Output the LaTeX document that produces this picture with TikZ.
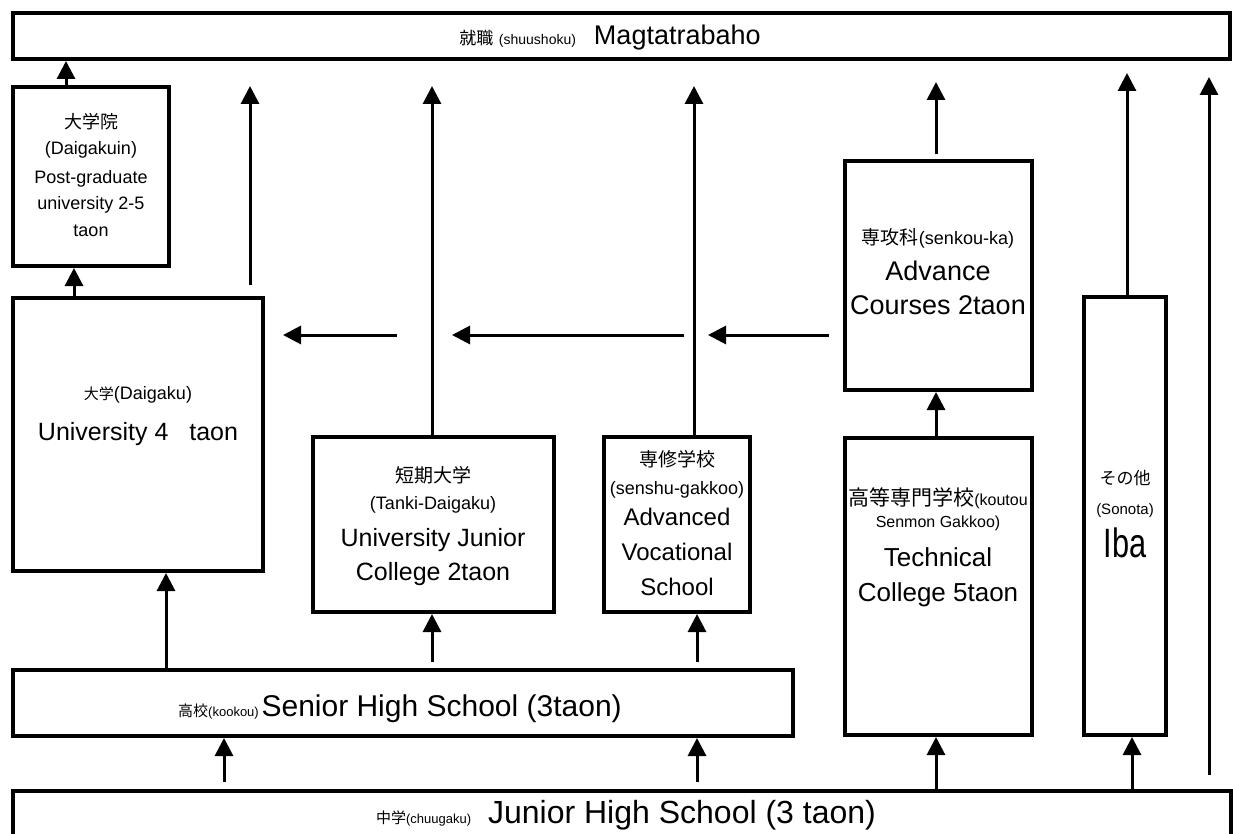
\documentclass[tikz,border=0pt]{standalone}
\usepackage{fontspec}
\setmainfont{Liberation Sans}
\newfontfamily\jp{Noto Sans CJK JP}
\usetikzlibrary{arrows.meta}
\newcommand\fs[2]{{\fontsize{#1pt}{#1pt}\selectfont #2}}
\newcommand\jf[2]{{\jp\fontsize{#1pt}{#1pt}\selectfont #2}}
\newcommand\nx[2]{\scalebox{#1}[1]{#2}}
\begin{document}
\begin{tikzpicture}[x=1pt,y=-1pt,
  box/.style={draw,line width=4pt,inner sep=0pt,fill=white},
  arr/.style={line width=3pt,-{Triangle[length=18pt,width=18pt]}},
  txt/.style={inner sep=0pt,anchor=base}]
\useasboundingbox (0,0) rectangle (1233,834);
\clip (0,0) rectangle (1233,834);
% boxes
\node[box,minimum width=1217pt,minimum height=46pt]  (top)    at (621.5,36) {};
\node[box,minimum width=156pt,minimum height=179pt]  (dgin)   at (91,176.5) {};
\node[box,minimum width=250pt,minimum height=273pt]  (univ)   at (138,434.5) {};
\node[box,minimum width=241pt,minimum height=175pt]  (tanki)  at (433.5,524.5) {};
\node[box,minimum width=146pt,minimum height=175pt]  (senmon) at (677,524.5) {};
\node[box,minimum width=187pt,minimum height=229pt]  (adv)    at (938.5,275.5) {};
\node[box,minimum width=187pt,minimum height=297pt]  (kosen)  at (938.5,586.5) {};
\node[box,minimum width=82pt,minimum height=438pt]   (sonota) at (1125,516) {};
\node[box,minimum width=780pt,minimum height=66pt]   (senior) at (403,703) {};
\node[box,minimum width=1218pt,minimum height=79pt]  (junior) at (622,830.5) {};
% free ends
\coordinate (f1s) at (250,285);  \coordinate (f1e) at (250,86);
\coordinate (f2e) at (432,86);
\coordinate (f3e) at (694,86);
\coordinate (f4e) at (936,82);
\coordinate (f5e) at (1127,73);
\coordinate (f6s) at (1209,775); \coordinate (f6e) at (1209,77);
\coordinate (h1s) at (397,335);  \coordinate (h1e) at (283,335);
\coordinate (h2s) at (684,335);  \coordinate (h2e) at (452,335);
\coordinate (h3s) at (829,335);  \coordinate (h3e) at (708,335);
\coordinate (b1s) at (432,662);
\coordinate (b2s) at (697,662);
\coordinate (b3s) at (224,782);
\coordinate (b4s) at (697,782);
% arrows
\draw[arr] (dgin.north -| 66,0) -- (top.south -| 66,0);
\draw[arr] (univ.north -| 74,0) -- (dgin.south -| 74,0);
\draw[arr] (f1s) -- (f1e);
\draw[arr] (tanki.north -| f2e) -- (f2e);
\draw[arr] (senmon.north -| f3e) -- (f3e);
\draw[arr] ([yshift=5pt]adv.north -| f4e) -- (f4e);
\draw[arr] (sonota.north -| f5e) -- (f5e);
\draw[arr] (f6s) -- (f6e);
\draw[arr] (h1s) -- (h1e);
\draw[arr] (h2s) -- (h2e);
\draw[arr] (h3s) -- (h3e);
\draw[arr] (senior.north -| 166,0) -- (univ.south -| 166,0);
\draw[arr] (b1s) -- (tanki.south -| b1s);
\draw[arr] (b2s) -- (senmon.south -| b2s);
\draw[arr] (b3s) -- (senior.south -| b3s);
\draw[arr] (b4s) -- (senior.south -| b4s);
\draw[arr] (junior.north -| 936,0) -- (kosen.south -| 936,0);
\draw[arr] (junior.north -| 1132,0) -- (sonota.south -| 1132,0);
\draw[arr] (kosen.north -| 936,0) -- (adv.south -| 936,0);
% texts
\node[txt] (t-top) at (610,45) {\jf{17}{就職}\ \ \fs{14}{(shuushoku)}\hspace{18pt}\fs{27}{Magtatrabaho}};
\node[txt] (t-dg1) at (91,128.5) {\jf{18}{大学院}};
\node[txt] (t-dg2) at (91,154.5) {\fs{18}{(Daigakuin)}};
\node[txt] (t-dg3) at (91,183.5) {\fs{18}{Post-graduate}};
\node[txt] (t-dg4) at (91,209.5) {\fs{18}{university 2-5}};
\node[txt] (t-dg5) at (91,236.5) {\fs{18}{taon}};
\node[txt] (t-un1) at (138,399) {\jf{15}{大学}\fs{18}{(Daigaku)}};
\node[txt] (t-un2) at (138,440) {\fs{25}{University 4\ \ \ taon}};
\node[txt] (t-ta1) at (433,482) {\jf{19}{短期大学}};
\node[txt] (t-ta2) at (433,509.5) {\fs{18}{(Tanki-Daigaku)}};
\node[txt] (t-ta3) at (433,546) {\fs{25}{University Junior}};
\node[txt] (t-ta4) at (433,580) {\fs{25}{College 2taon}};
\node[txt] (t-se1) at (677,466) {\jf{19}{専修学校}};
\node[txt] (t-se2) at (677,494.5) {\fs{18}{(senshu-gakkoo)}};
\node[txt] (t-se3) at (677,525.6) {\fs{24}{Advanced}};
\node[txt] (t-se4) at (677,560.6) {\fs{24}{Vocational}};
\node[txt] (t-se5) at (677,595.6) {\fs{24}{School}};
\node[txt] (t-ad1) at (938,244) {\jf{19}{専攻科}\fs{18}{(senkou-ka)}};
\node[txt] (t-ad2) at (938,280) {\fs{27}{Advance}};
\node[txt] (t-ad3) at (938,314) {\fs{27}{Courses 2taon}};
\node[txt] (t-ko1) at (938,505) {\jf{21}{高等専門学校}\fs{16}{(koutou}};
\node[txt] (t-ko2) at (938,527) {\fs{16}{Senmon Gakkoo)}};
\node[txt] (t-ko3) at (938,566) {\fs{26}{Technical}};
\node[txt] (t-ko4) at (938,601) {\fs{26}{College 5taon}};
\node[txt] (t-so1) at (1125,484) {\jf{17}{その他}};
\node[txt] (t-so2) at (1125,514.5) {\fs{15}{(Sonota)}};
\node[txt] (t-so3) at (1125,557) {\fs{41}{\nx{0.75}{Iba}}};
\node[txt] (t-sh)  at (400,716) {\jf{15}{高校}\fs{13}{(kookou)}\ \fs{30}{Senior High School (3taon)}};
\node[txt] (t-jh)  at (626,823) {\jf{15}{中学}\fs{13}{(chuugaku)}\hspace{17pt}\fs{32}{Junior High School (3 taon)}};
\end{tikzpicture}
\end{document}
